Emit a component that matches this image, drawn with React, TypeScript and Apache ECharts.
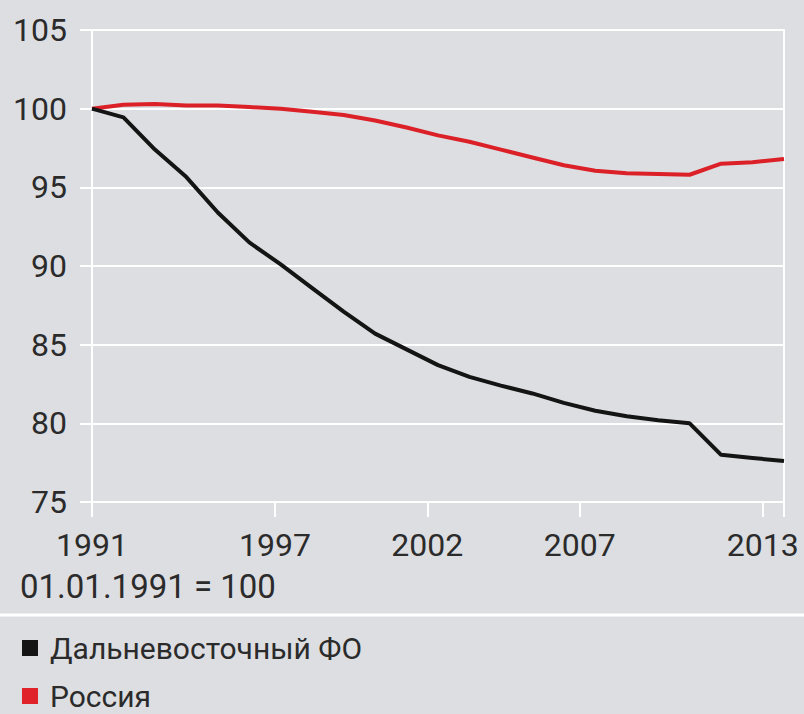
import React, { useEffect, useRef } from "react";
import * as echarts from "echarts";

const years = [
  1991, 1992, 1993, 1994, 1995, 1996, 1997, 1998, 1999, 2000, 2001, 2002,
  2003, 2004, 2005, 2006, 2007, 2008, 2009, 2010, 2011, 2012, 2013,
];
const farEast = [
  100, 99.45, 97.4, 95.65, 93.4, 91.5, 90.1, 88.6, 87.1, 85.7, 84.7, 83.7,
  82.95, 82.4, 81.9, 81.3, 80.8, 80.45, 80.2, 80.0, 78.0, 77.8, 77.6,
];
const russia = [
  100, 100.25, 100.3, 100.2, 100.2, 100.1, 100.0, 99.8, 99.6, 99.25, 98.8,
  98.3, 97.9, 97.4, 96.9, 96.4, 96.05, 95.9, 95.85, 95.8, 96.5, 96.6, 96.8,
];
const tickYears = [1991, 1997, 2002, 2007, 2013];
const seriesNames = ["Дальневосточный ФО", "Россия"];
const baseNote = "01.01.1991 = 100";

const BG = "#dddee1";
const TEXT = "#2b2b2b";
const FONT = "Roboto";

export default function App() {
  const ref = useRef<HTMLDivElement>(null);
  useEffect(() => {
    if (!ref.current) return;
    const chart = echarts.init(ref.current, null, { renderer: "svg" });
    const white = { color: "#ffffff", width: 2 };
    const legendBase = {
      orient: "vertical",
      left: 22,
      icon: "rect",
      itemWidth: 16,
      itemHeight: 16,
      padding: 0,
      textStyle: {
        fontSize: 30,
        color: TEXT,
        fontFamily: FONT,
        lineHeight: 30,
        padding: [0, 0, 0, 7],
      },
    };
    chart.setOption({
      animation: false,
      backgroundColor: BG,
      textStyle: { fontFamily: FONT },
      grid: { left: 92, right: 20, top: 30, bottom: 212 },
      xAxis: [
        { type: "value", min: 1991, max: 2013, show: false },
        {
          type: "value",
          min: 1991,
          max: 2013.7,
          position: "bottom",
          axisLine: { show: true, lineStyle: white },
          axisTick: {
            show: true,
            length: 15,
            lineStyle: white,
            customValues: [...tickYears, 2013.7],
          },
          axisLabel: {
            customValues: tickYears,
            formatter: (v: number) => String(v),
            fontSize: 32,
            color: TEXT,
            fontFamily: FONT,
            margin: 27,
          },
          splitLine: { show: false },
        },
      ],
      yAxis: [
        {
          type: "value",
          min: 75,
          max: 105,
          interval: 5,
          axisLine: { show: true, lineStyle: white },
          axisTick: { show: true, length: 12, lineStyle: white },
          splitLine: { show: true, lineStyle: white },
          axisLabel: {
            fontSize: 32,
            color: TEXT,
            fontFamily: FONT,
            margin: 25,
          },
        },
        {
          type: "value",
          min: 75,
          max: 105,
          position: "right",
          axisLine: { show: true, lineStyle: white },
          axisTick: { show: false },
          axisLabel: { show: false },
          splitLine: { show: false },
        },
      ],
      legend: [
        { ...legendBase, top: 633, data: [seriesNames[0]] },
        { ...legendBase, top: 681, data: [seriesNames[1]] },
      ],
      graphic: [
        {
          type: "text",
          left: 20,
          top: 570,
          style: {
            text: baseNote,
            fontSize: 33,
            fill: TEXT,
            fontFamily: FONT,
          },
        },
        {
          type: "line",
          shape: { x1: 0, y1: 615, x2: 804, y2: 615 },
          style: { stroke: "#ffffff", lineWidth: 3 },
        },
      ],
      series: [
        {
          name: seriesNames[1],
          type: "line",
          xAxisIndex: 0,
          symbol: "none",
          lineStyle: { color: "#dc2027", width: 4 },
          itemStyle: { color: "#e0222b" },
          data: years.map((y, i) => [y, russia[i]]),
        },
        {
          name: seriesNames[0],
          type: "line",
          xAxisIndex: 0,
          symbol: "none",
          lineStyle: { color: "#141414", width: 4 },
          itemStyle: { color: "#141414" },
          data: years.map((y, i) => [y, farEast[i]]),
        },
      ],
    });
    return () => chart.dispose();
  }, []);
  return (
    <div
      ref={ref}
      style={{ position: "fixed", left: 0, top: 0, width: 804, height: 714 }}
    />
  );
}
